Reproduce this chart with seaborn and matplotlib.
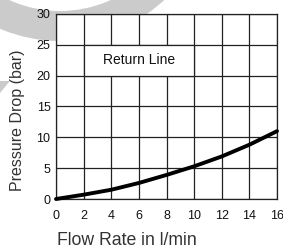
import numpy as np
import pandas as pd
import matplotlib.pyplot as plt
import seaborn as sns
from matplotlib.patches import Wedge, Polygon, Rectangle

# values
flow = [0, 2, 4, 6, 8, 10, 12, 14, 16]
pressure = [0, 0.7, 1.5, 2.6, 3.9, 5.3, 6.9, 8.8, 11.0]
x_ticks = [0, 2, 4, 6, 8, 10, 12, 14, 16]
y_ticks = [0, 5, 10, 15, 20, 25, 30]

sns.set_theme(style="white")
plt.rcParams['font.family'] = ['Liberation Sans', 'DejaVu Sans']

df = pd.DataFrame({"flow": flow, "pressure": pressure})

W, H = 283, 249
fig = plt.figure(figsize=(W / 100, H / 100), dpi=100)


def fx(px):
    return px / W


def fy(py):
    return 1 - py / H


# faint logo watermark behind everything (pixel geometry, y down)
ax_bg = fig.add_axes([0, 0, 1, 1], zorder=-5)
ax_bg.set_xlim(0, W)
ax_bg.set_ylim(H, 0)
ax_bg.set_aspect("equal")
ax_bg.axis("off")
ax_bg.add_patch(Wedge((60, -112), 153, 0, 360, width=30,
                      facecolor="#cbcbcb", edgecolor="none"))
ax_bg.add_patch(Polygon([(0, 81), (10, 81), (0, 93)], closed=True,
                        facecolor="#cbcbcb", edgecolor="none"))

ax = fig.add_axes([fx(56), fy(199), fx(221), 185 / H])
ax.set_facecolor("white")

sns.lineplot(data=df, x="flow", y="pressure", ax=ax, color="black", linewidth=2.8,
             zorder=5, clip_on=False)

ax.set_xlim(0, 16)
ax.set_ylim(0, 30)
ax.set_xticks(x_ticks)
ax.set_yticks(y_ticks)
ax.grid(True, color="#222222", linewidth=0.9)
ax.set_axisbelow(True)
for s in ax.spines.values():
    s.set_color("#222222")
    s.set_linewidth(0.9)
ax.tick_params(axis="both", length=0, labelsize=9, colors="#111111")
ax.tick_params(axis="y", pad=4)
ax.tick_params(axis="x", pad=8)

# white box behind the label
ax.add_patch(Rectangle((2, 20), 8, 5, facecolor="white", edgecolor="#222222",
                       linewidth=0.9, zorder=3))
ax.text(6, 22.5, "Return Line", ha="center", va="center", fontsize=10,
        color="#111111", zorder=4)

ax.set_xlabel("")
ax.set_ylabel("")
fig.text(fx(127), fy(240), "Flow Rate in l/min", ha="center", va="center",
         fontsize=12.7, color="#333333")
fig.text(fx(18), fy(120), "Pressure Drop (bar)", ha="center", va="center",
         rotation=90, fontsize=11.5, color="#333333")

fig.savefig("out.png", dpi=100)
